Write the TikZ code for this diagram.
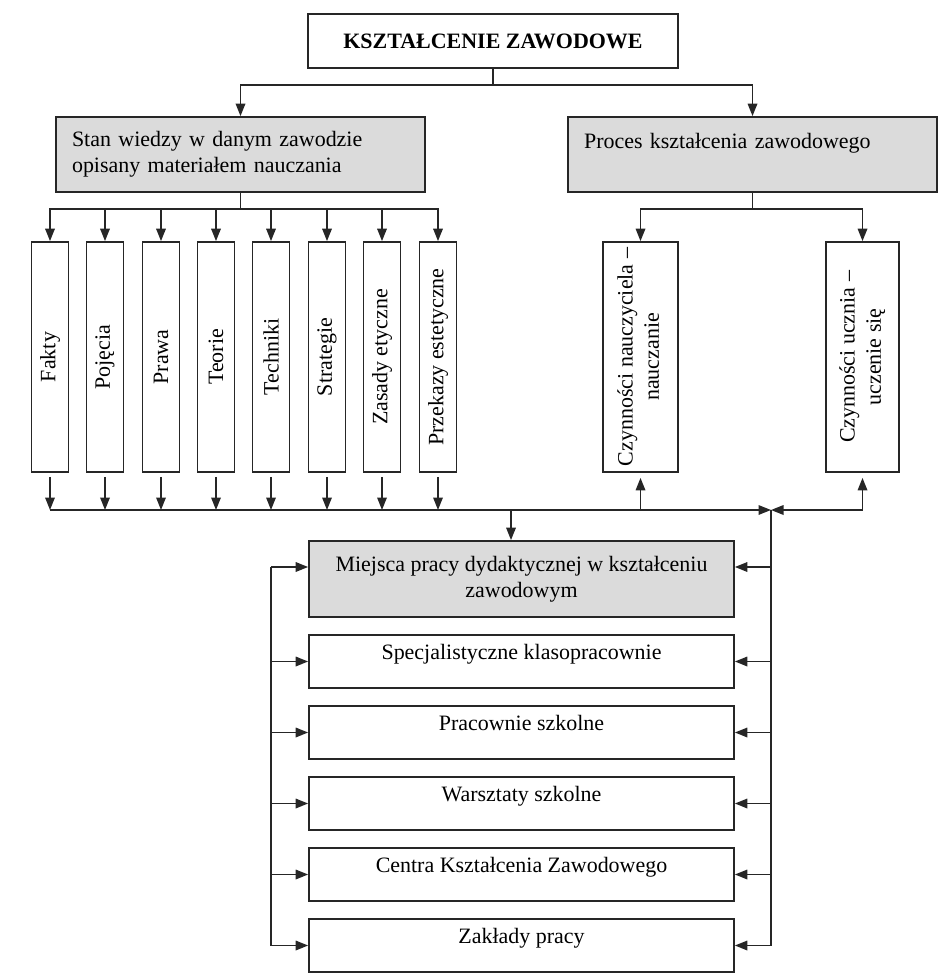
\documentclass[tikz,border=0pt]{standalone}
\usepackage{fontspec}
\setmainfont{Liberation Serif}
\usepackage{tikz}
\usetikzlibrary{positioning, calc}
\usetikzlibrary{arrows.meta}

\begin{document}
\begin{tikzpicture}[x=0.02cm,y=-0.02cm,draw=black!85,line width=1pt,>={Triangle[length=0.25cm,width=0.19cm]}]
	\def \rowtop{41}
	\def \rowtwo{154.5}
	\def \rowsplit{85}
	\def \rowfork{209}
	\def \rowthree{357}
	\def \rowbus{510}
	\def \colbus{771}
	\def \colleft{271}
	\def \colplace{521.5}
	\tikzstyle{k-node}=[draw,font=\fontsize{12.5}{15}\selectfont,inner sep=2pt]
	\tikzstyle{g-node}=[k-node,fill=black!14,minimum width=7.38cm,minimum height=1.5cm,text width=6.74cm,align=left]
	\tikzstyle{e-node}=[k-node,minimum width=0.74cm,minimum height=4.6cm]
	\tikzstyle{c-node}=[k-node,minimum height=4.6cm]
	\tikzstyle{p-node}=[k-node,minimum width=8.5cm,minimum height=1.06cm,text height=9pt,text depth=11pt]
	\useasboundingbox (0,0) rectangle (952,973);

	% root
	\node[k-node,minimum width=7.4cm,minimum height=1.08cm,font=\fontsize{12.5}{15}\selectfont\bfseries] (top) at (493,\rowtop) {KSZTAŁCENIE ZAWODOWE};

	% second row
	\node[g-node] (stan) at (240.5,\rowtwo) {Stan wiedzy w danym zawodzie\\opisany materiałem nauczania};
	\node[g-node] (proc) at (752.5,\rowtwo) {Proces kształcenia zawodowego\\\mbox{}};

	% elements of knowledge
	\node[e-node] (e1) at (50,\rowthree) {\rotatebox{90}{Fakty}};
	\node[e-node] (e2) at (105,\rowthree) {\rotatebox{90}{Pojęcia}};
	\node[e-node] (e3) at (161,\rowthree) {\rotatebox{90}{Prawa}};
	\node[e-node] (e4) at (216,\rowthree) {\rotatebox{90}{Teorie}};
	\node[e-node] (e5) at (271,\rowthree) {\rotatebox{90}{Techniki}};
	\node[e-node] (e6) at (327,\rowthree) {\rotatebox{90}{Strategie}};
	\node[e-node] (e7) at (382,\rowthree) {\rotatebox{90}{Zasady etyczne}};
	\node[e-node] (e8) at (438,\rowthree) {\rotatebox{90}{Przekazy estetyczne}};

	% activities
	\node[c-node,minimum width=1.5cm] (czn) at (640.5,\rowthree) {\rotatebox{90}{\begin{tabular}{@{}c@{}}Czynności nauczyciela –\\nauczanie\end{tabular}}};
	\node[c-node,minimum width=1.46cm] (czu) at (862.5,\rowthree) {\rotatebox{90}{\begin{tabular}{@{}c@{}}Czynności ucznia –\\uczenie się\end{tabular}}};

	% places
	\node[k-node,fill=black!14,minimum width=8.5cm,minimum height=1.52cm,align=center] (m0) at (\colplace,579) {Miejsca pracy dydaktycznej w kształceniu\\zawodowym};
	\node[p-node] (p1) at (\colplace,661.5) {Specjalistyczne klasopracownie};
	\node[p-node] (p2) at (\colplace,732.5) {Pracownie szkolne};
	\node[p-node] (p3) at (\colplace,803.5) {Warsztaty szkolne};
	\node[p-node] (p4) at (\colplace,874.5) {Centra Kształcenia Zawodowego};
	\node[p-node] (p5) at (\colplace,945.5) {Zakłady pracy};

	\coordinate (split) at (0,\rowsplit);
	\coordinate (fork) at (0,\rowfork);
	\coordinate (bus) at (0,\rowbus);
	\coordinate (jn) at (\colbus,\rowbus);
	\coordinate (drop) at (511,\rowbus);
	\coordinate (lft) at (\colleft,0);
	\coordinate (m0l) at ([yshift=0.24cm]m0.west);
	\coordinate (m0r) at ([yshift=0.24cm]m0.east);

	% root to second row
	\draw (top.south) -- (top.south |- split);
	\draw[->] (top.south |- split) -| (stan.north);
	\draw[->] (top.south |- split) -| (proc.north);

	% knowledge fork
	\draw (stan.south) -- (stan.south |- fork);
	\draw[->] (stan.south |- fork) -| (e1.north);
	\draw[->] (stan.south |- fork) -| (e2.north);
	\draw[->] (stan.south |- fork) -| (e3.north);
	\draw[->] (stan.south |- fork) -| (e4.north);
	\draw[->] (stan.south |- fork) -| (e5.north);
	\draw[->] (stan.south |- fork) -| (e6.north);
	\draw[->] (stan.south |- fork) -| (e7.north);
	\draw[->] (stan.south |- fork) -| (e8.north);

	% process fork
	\draw (proc.south) -- (proc.south |- fork);
	\draw[->] (proc.south |- fork) -| (czn.north);
	\draw[->] (proc.south |- fork) -| (czu.north);

	% into the bus
	\draw[->] ([yshift=-0.08cm]e1.south) -- (e1.south |- bus);
	\draw[->] ([yshift=-0.08cm]e2.south) -- (e2.south |- bus);
	\draw[->] ([yshift=-0.08cm]e3.south) -- (e3.south |- bus);
	\draw[->] ([yshift=-0.08cm]e4.south) -- (e4.south |- bus);
	\draw[->] ([yshift=-0.08cm]e5.south) -- (e5.south |- bus);
	\draw[->] ([yshift=-0.08cm]e6.south) -- (e6.south |- bus);
	\draw[->] ([yshift=-0.08cm]e7.south) -- (e7.south |- bus);
	\draw[->] ([yshift=-0.08cm]e8.south) -- (e8.south |- bus);
	\draw[->] (e1.south |- bus) -- (jn);
	\draw[->] (czu.south |- bus) -- (jn);
	\draw[->] (czu.south |- bus) -- ([yshift=-0.1cm]czu.south);
	\draw[->] (czn.south |- bus) -- ([yshift=-0.1cm]czn.south);
	\draw[->] (drop) -- (drop |- m0.north);

	% right side
	\draw (jn) -- (jn |- p5.east);
	\draw[->] (jn |- m0r) -- (m0r);
	\draw[->] (jn |- p1.east) -- (p1.east);
	\draw[->] (jn |- p2.east) -- (p2.east);
	\draw[->] (jn |- p3.east) -- (p3.east);
	\draw[->] (jn |- p4.east) -- (p4.east);
	\draw[->] (jn |- p5.east) -- (p5.east);

	% left side
	\draw (lft |- m0l) -- (lft |- p5.west);
	\draw[->] (lft |- m0l) -- (m0l);
	\draw[->] (lft |- p1.west) -- (p1.west);
	\draw[->] (lft |- p2.west) -- (p2.west);
	\draw[->] (lft |- p3.west) -- (p3.west);
	\draw[->] (lft |- p4.west) -- (p4.west);
	\draw[->] (lft |- p5.west) -- (p5.west);
\end{tikzpicture}
\end{document}
